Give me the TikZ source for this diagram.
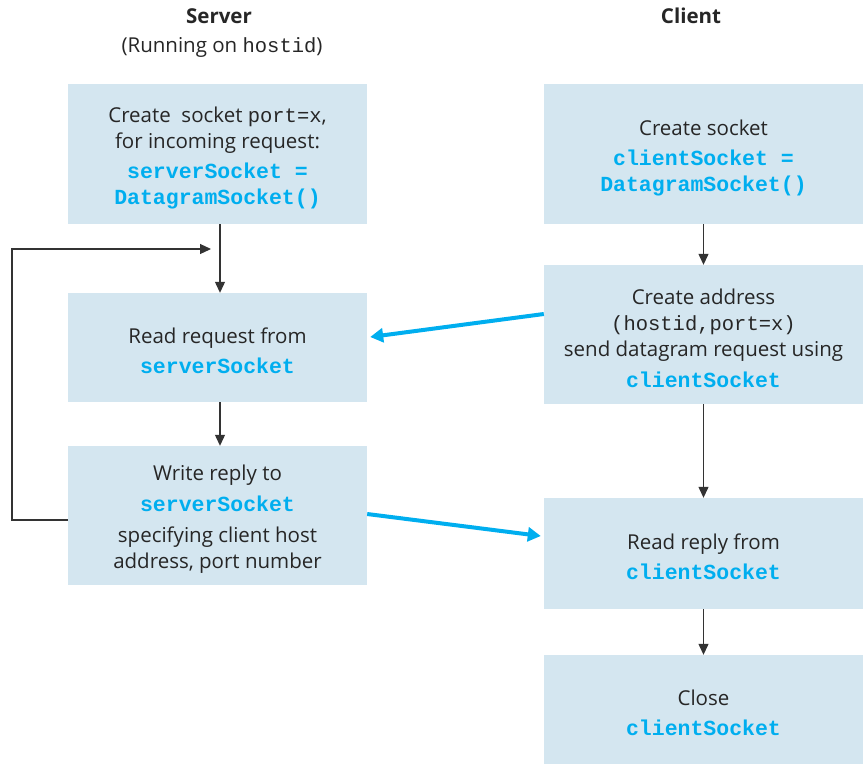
\documentclass[tikz,border=0pt]{standalone}
\usepackage{fontspec}
\setmainfont{Open Sans}
\newfontfamily\codefont{Liberation Mono}
\usetikzlibrary{arrows.meta}
\definecolor{boxfill}{RGB}{212,230,240}
\definecolor{codecyan}{RGB}{0,174,239}
\newcommand{\cdb}[1]{{\codefont\fontsize{21.5}{26}\selectfont\bfseries\color{codecyan}#1}}
\newcommand{\cdr}[1]{{\codefont #1}}
\newcommand{\tp}{\rule{0pt}{23pt}}
\begin{document}
\begin{tikzpicture}[x=1pt,y=-1pt,
  box/.style={fill=boxfill, draw=none, align=center, inner sep=0pt,
    font=\fontsize{20.5}{26}\selectfont, text=black!85},
  sbox/.style={box, minimum width=299pt},
  cbox/.style={box, minimum width=319pt},
  flow/.style={draw=black!80, line width=1.2pt, -{Triangle[length=11pt,width=10pt]}},
  msg/.style={draw=codecyan, line width=4pt, -{Triangle[length=13pt,width=14pt]}},
  hdr/.style={font=\fontsize{20.5}{24}\selectfont, text=black!85}]
\useasboundingbox (0,0) rectangle (863,764);
\node[hdr, font=\fontsize{20.5}{24}\selectfont\bfseries] (srvh) at (219,16) {Server};
\node[hdr] (srvr) at (222,47) {(Running on \cdr{hostid})};
\node[hdr, font=\fontsize{20.5}{24}\selectfont\bfseries] (clih) at (691,16) {Client};

\node[sbox, minimum height=140pt] (s1) at (217.5,154) {\tp Create\ \ socket \cdr{port=x},\\ for incoming request:\\[4pt] \cdb{serverSocket =}\\ \cdb{DatagramSocket()}};
\node[sbox, minimum height=109pt] (s2) at (217.5,347.5) {\tp Read request from\\[4pt] \cdb{serverSocket}};
\node[sbox, minimum height=139pt] (s3) at (217.5,515.5) {\tp Write reply to\\[5pt] \cdb{serverSocket}\\[5pt] specifying client host\\ address, port number};

\node[cbox, minimum height=140pt] (c1) at (703.5,154) {\tp Create socket\\[4pt] \cdb{clientSocket =}\\ \cdb{DatagramSocket()}};
\node[cbox, minimum height=139pt] (c2) at (703.5,334.5) {\tp Create address\\ \cdr{(hostid,port=x)}\\ send datagram request using\\[5pt] \cdb{clientSocket}};
\node[cbox, minimum height=111pt] (c3) at (703.5,553.5) {\tp Read reply from\\[4pt] \cdb{clientSocket}};
\node[cbox, minimum height=109pt] (c4) at (703.5,709.5) {\tp Close\\[4pt] \cdb{clientSocket}};

\draw[flow] ([xshift=2.5pt]s1.south) -- ([xshift=2.5pt]s2.north);
\draw[flow] ([xshift=2.5pt]s2.south) -- ([xshift=2.5pt]s3.north);
\draw[flow] (c1.south) -- (c2.north);
\draw[flow] (c2.south) -- (c3.north);
\draw[flow] (c3.south) -- (c4.north);

\coordinate (loopend) at (211,249);
\draw[flow] ([yshift=-4.5pt]s3.west) -| (12,249) -- (loopend);

\draw[msg] ([yshift=20.5pt]c2.west) -- ([xshift=3pt,yshift=10.5pt]s2.east);
\draw[msg] ([yshift=1.5pt]s3.east) -- ([xshift=-3pt,yshift=17.5pt]c3.west);
\end{tikzpicture}
\end{document}
